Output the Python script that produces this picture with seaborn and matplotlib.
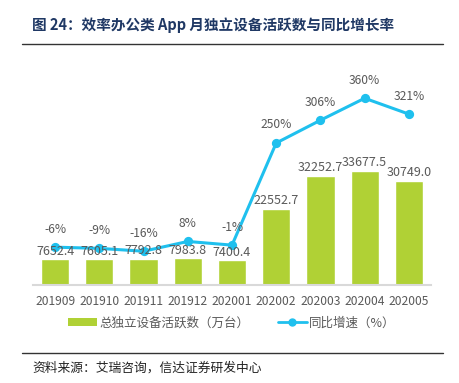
import matplotlib
matplotlib.use("Agg")
import matplotlib.pyplot as plt
import seaborn as sns
import pandas as pd
from matplotlib.lines import Line2D
from matplotlib.patches import Patch

months = ["201909", "201910", "201911", "201912", "202001",
          "202002", "202003", "202004", "202005"]
devices = [7652.4, 7605.1, 7792.8, 7983.8, 7400.4,
           22552.7, 32252.7, 33677.5, 30749.0]
growth = [-6, -9, -16, 8, -1, 250, 306, 360, 321]

bar_label = "总独立设备活跃数（万台）"
line_label = "同比增速（%）"
title = "图 24：效率办公类 App 月独立设备活跃数与同比增长率"
source = "资料来源：艾瑞咨询，信达证券研发中心"

sns.set_theme(style="white")
plt.rcParams["font.family"] = ["Noto Sans CJK SC", "DejaVu Sans"]

GREEN = "#b0d135"
BLUE = "#1fc0ee"
GRAY = "#595959"

df = pd.DataFrame({"month": months, "devices": devices, "growth": growth})

fig = plt.figure(figsize=(4.59, 3.83), dpi=100)
ax = fig.add_axes([33 / 459, 1 - 285 / 383, (431 - 33) / 459, (285 - 60) / 383])

sns.barplot(data=df, x="month", y="devices", color=GREEN, width=0.64,
            saturation=1, ax=ax, zorder=2)
ax.set_ylim(0, 66370)
ax.set_xlim(-0.5, len(months) - 0.5)

ax2 = ax.twinx()
sns.pointplot(data=df, x="month", y="growth", color=BLUE, ax=ax2,
              markers="o", markersize=5, linewidth=2.2, zorder=3)
ax2.set_ylim(-99, 454)
ax2.set_xlim(-0.5, len(months) - 0.5)

for a in (ax, ax2):
    a.set_xlabel("")
    a.set_ylabel("")
    a.set_yticks([])
    for s in ("top", "left", "right"):
        a.spines[s].set_visible(False)
ax2.spines["bottom"].set_visible(False)
ax.spines["bottom"].set_color("#d9d9d9")
ax.spines["bottom"].set_linewidth(1.5)
ax.tick_params(axis="x", length=0, pad=7, labelsize=8.7, labelcolor=GRAY)

for i, v in enumerate(devices):
    ax2.annotate(f"{v:.1f}", (i, v * (454 + 99) / 66370 - 99), xytext=(0, 1),
                 textcoords="offset points", ha="center", va="bottom",
                 fontsize=9, color=GRAY, zorder=5)
for i, g in enumerate(growth):
    ax2.annotate(f"{g}%", (i, g), xytext=(0, 13), textcoords="offset points",
                 ha="center", va="center", fontsize=8.7, color=GRAY)

handles = [Patch(facecolor=GREEN, edgecolor="none"),
           Line2D([0], [0], color=BLUE, lw=2, marker="o", markersize=5)]
fig.legend(handles, [bar_label, line_label], loc="center",
           bbox_to_anchor=(0.505, 1 - 323 / 383), ncol=2, frameon=False,
           fontsize=9, labelcolor=GRAY, handlelength=2.3, handleheight=0.55,
           handletextpad=0.2, columnspacing=2.3)

fig.text(32 / 459, 1 - 25 / 383, title, fontsize=10.5, fontweight="bold",
         color="#1f3864", ha="left", va="center")
fig.add_artist(Line2D([22 / 459, 443 / 459], [1 - 44 / 383, 1 - 44 / 383],
                      color="#333333", lw=1))
fig.add_artist(Line2D([22 / 459, 443 / 459], [1 - 353 / 383, 1 - 353 / 383],
                      color="#333333", lw=1))
fig.text(32 / 459, 1 - 368 / 383, source, fontsize=9.2, color="#222222",
         ha="left", va="center", style="italic")

fig.savefig("out.png", dpi=100)
